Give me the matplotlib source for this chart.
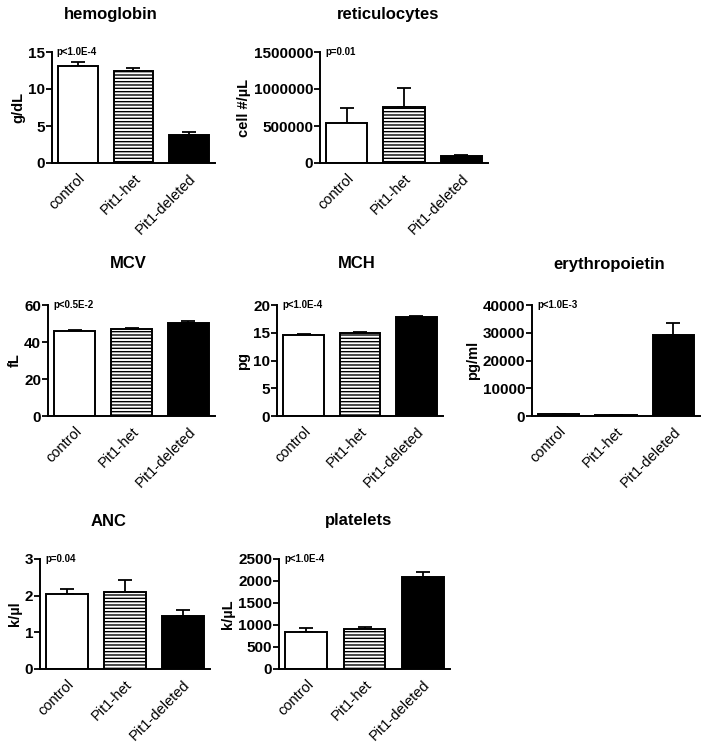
import matplotlib
matplotlib.use('Agg')
import matplotlib.pyplot as plt

plt.rcParams['font.family'] = ['Liberation Sans', 'DejaVu Sans']
plt.rcParams['hatch.linewidth'] = 1.0

groups = ['control', 'Pit1-het', 'Pit1-deleted']

hgb = [13.1, 12.5, 3.8]
hgb_err = [0.5, 0.3, 0.4]
retic = [536000, 753000, 100000]
retic_err = [203000, 265000, 12000]
mcv = [46.1, 46.9, 50.4]
mcv_err = [0.4, 0.5, 0.7]
mch = [14.6, 14.9, 17.9]
mch_err = [0.1, 0.2, 0.15]
epo = [600, 400, 29300]
epo_err = [150, 100, 4100]
anc = [2.04, 2.10, 1.44]
anc_err = [0.14, 0.33, 0.18]
platelets = [840, 900, 2100]
platelets_err = [85, 60, 110]

W, H = 707, 746
fig = plt.figure(figsize=(W / 100, H / 100), dpi=100)
fig.patch.set_facecolor('white')


def panel(box, title, tx, ty, vals, errs, ylabel, yticks, ytlabels, ptext):
    x0, x1, ytop, ybot = box
    ax = fig.add_axes([x0 / W, 1 - ybot / H, (x1 - x0) / W, (ybot - ytop) / H])
    pos = range(len(groups))
    styles = [dict(color='white', hatch=None),
              dict(color='white', hatch='-----'),
              dict(color='black', hatch=None)]
    for i, st in zip(pos, styles):
        ax.errorbar(i, vals[i], yerr=[[0], [errs[i]]], color='black',
                    capsize=5, elinewidth=1.3, capthick=1.3, zorder=1)
        ax.bar(i, vals[i], width=0.72, color=st['color'], edgecolor='black',
               linewidth=1.4, hatch=st['hatch'], zorder=2)
    ax.set_xlim(-0.47, 2.47)
    ax.set_ylim(0, yticks[-1])
    ax.set_yticks(yticks)
    ax.set_yticklabels(ytlabels, fontsize=11, fontweight='bold')
    ax.set_xticks(list(pos))
    ax.set_xticklabels(groups, rotation=45, ha='right', rotation_mode='anchor',
                       fontsize=10.5)
    ax.tick_params(axis='x', length=0, pad=6)
    ax.tick_params(axis='y', length=4, width=1.3, pad=1)
    for s in ['top', 'right']:
        ax.spines[s].set_visible(False)
    for s in ['left', 'bottom']:
        ax.spines[s].set_linewidth(1.4)
    ax.set_ylabel(ylabel, fontsize=10.5, fontweight='bold', labelpad=2)
    ax.text(0.03, 1.0, ptext, transform=ax.transAxes, fontsize=7,
            fontweight='bold', va='center', ha='left')
    fig.text(tx / W, 1 - ty / H, title, fontsize=12, fontweight='bold',
             ha='center', va='center')
    return ax


panel((52, 215, 52, 163), 'hemoglobin', 111, 15, hgb, hgb_err, 'g/dL',
      [0, 5, 10, 15], ['0', '5', '10', '15'], 'p<1.0E-4')
panel((320, 488, 52, 163), 'reticulocytes', 388, 15, retic, retic_err, 'cell #/\u00b5L',
      [0, 500000, 1000000, 1500000], ['0', '500000', '1000000', '1500000'], 'p=0.01')
panel((48, 215, 305, 416), 'MCV', 128, 264, mcv, mcv_err, 'fL',
      [0, 20, 40, 60], ['0', '20', '40', '60'], 'p<0.5E-2')
panel((277, 443, 305, 416), 'MCH', 357, 264, mch, mch_err, 'pg',
      [0, 5, 10, 15, 20], ['0', '5', '10', '15', '20'], 'p<1.0E-4')
panel((532, 700, 305, 416), 'erythropoietin', 609, 264, epo, epo_err, 'pg/ml',
      [0, 10000, 20000, 30000, 40000], ['0', '10000', '20000', '30000', '40000'], 'p<1.0E-3')
panel((40, 210, 559, 669), 'ANC', 109, 521, anc, anc_err, 'k/\u00b5l',
      [0, 1, 2, 3], ['0', '1', '2', '3'], 'p=0.04')
panel((279, 450, 559, 669), 'platelets', 359, 521, platelets, platelets_err, 'k/\u00b5L',
      [0, 500, 1000, 1500, 2000, 2500], ['0', '500', '1000', '1500', '2000', '2500'], 'p<1.0E-4')

plt.savefig('out.png', dpi=100, facecolor='white')
